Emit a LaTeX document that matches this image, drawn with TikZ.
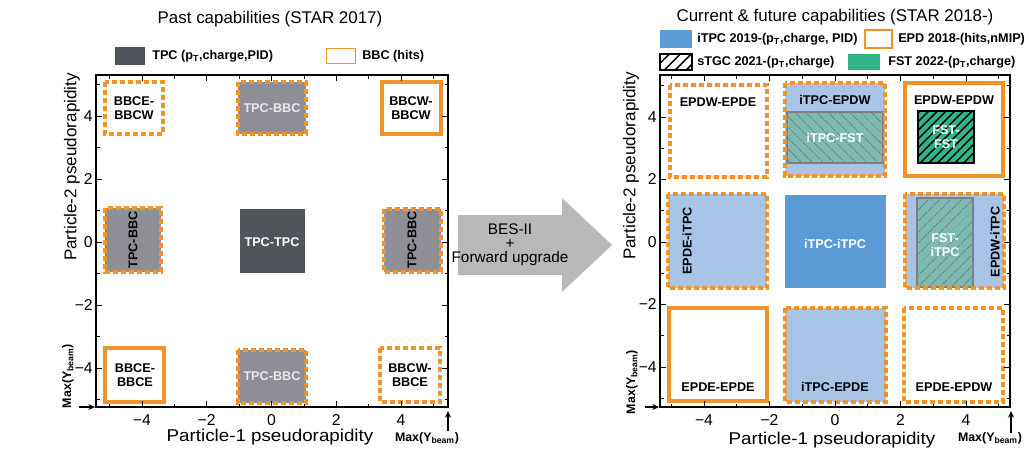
\documentclass[tikz,border=0pt]{standalone}
\usepackage{fontspec}
\setmainfont{Liberation Sans}
\usepackage{graphicx}
\usetikzlibrary{patterns.meta,arrows.meta}
\definecolor{orng}{RGB}{240,148,40}
\definecolor{tpcdark}{RGB}{80,85,92}
\definecolor{tpcgray}{RGB}{142,143,150}
\definecolor{itpc}{RGB}{91,155,213}
\definecolor{ltblue}{RGB}{168,197,232}
\definecolor{tealf}{RGB}{125,187,178}
\definecolor{fstg}{RGB}{50,180,138}
\definecolor{arrowgray}{RGB}{183,185,185}
\definecolor{hatchgray}{RGB}{105,130,128}
\definecolor{lightlbl}{RGB}{232,232,236}
\begin{document}
\begin{tikzpicture}[x=0.75pt,y=-0.75pt,
  lbl/.style={font=\bfseries\fontsize{9.5}{10.5}\selectfont, align=center, inner sep=0pt},
  wlbl/.style={lbl, text=white},
  glbl/.style={lbl, text=lightlbl},
  dbox/.style={draw=orng, line width=2.3pt, dash pattern=on 3.8pt off 2.2pt},
  sbox/.style={draw=orng, line width=2.6pt},
  tk/.style={line width=0.6pt},
  axisln/.style={line width=0.9pt},
  ticklbl/.style={font=\fontsize{11.8}{12}\selectfont, inner sep=0pt},
  axtitle/.style={font=\fontsize{12.8}{14}\selectfont, inner sep=0pt},
  ptitle/.style={font=\fontsize{12.7}{14}\selectfont, inner sep=0pt, anchor=base},
  legtxt/.style={font=\bfseries\fontsize{9.5}{10.5}\selectfont, inner sep=0pt, anchor=west},
  maxlbl/.style={font=\bfseries\fontsize{9.3}{10}\selectfont, inner sep=0pt},
  arr/.style={-{Stealth[length=5pt,width=4.5pt]}, line width=0.8pt},
  hatchT/.style={pattern={Lines[angle=-45,distance=6.5pt,line width=0.9pt]}, pattern color=hatchgray},
  hatchTn/.style={pattern={Lines[angle=45,distance=6.5pt,line width=0.9pt]}, pattern color=hatchgray},
  hatchF/.style={pattern={Lines[angle=45,distance=4.6pt,line width=1.1pt]}, pattern color=black},
]
\useasboundingbox (0,0) rectangle (1029,450);
\fill[white] (0,0) rectangle (1029,450);

%================ LEFT PANEL =================
\node[ptitle] (ltitle) at (270,23) {Past capabilities (STAR 2017)};
% legend
\fill[tpcdark] (115,47) rectangle (145,65);
\node[legtxt] (lleg1) at (152,56) {TPC (p\textsubscript{T},charge,PID)};
\draw[orng, line width=0.7pt] (326,48) rectangle (355,63);
\node[legtxt] (lleg2) at (362,56) {BBC (hits)};

% boxes
\path[fill=white, dbox] (105,82) rectangle (163,134);
\node[lbl] (l1) at (134,108) {BBCE-\\BBCW};
\path[fill=tpcgray, dbox] (238,82) rectangle (306,134);
\node[glbl] (l2) at (272,108) {TPC-BBC};
\path[fill=white, sbox] (382,82) rectangle (441,134);
\node[lbl] (l3) at (411,108) {BBCW-\\BBCW};

\path[fill=tpcgray, dbox] (105,208) rectangle (161,272);
\node[lbl, rotate=90] (l4) at (133,240) {TPC-BBC};
\fill[tpcdark] (240,209) rectangle (305,273);
\node[wlbl] (l5) at (272,242) {TPC-TPC};
\path[fill=tpcgray, dbox] (384,209) rectangle (441,272);
\node[lbl, rotate=90] (l6) at (412,240) {TPC-BBC};

\path[fill=white, sbox] (105,348) rectangle (164,402);
\node[lbl] (l7) at (135,375) {BBCE-\\BBCE};
\path[fill=tpcgray, dbox] (238,350) rectangle (306,403);
\node[glbl] (l8) at (272,376) {TPC-BBC};
\path[fill=white, dbox] (380,348) rectangle (440,402);
\node[lbl] (l9) at (410,375) {BBCW-\\BBCE};

% frame and ticks
\draw[axisln] (96,75) rectangle (448,407);
\foreach \i in {-4,-2,...,4} {
  \draw[tk] ({271.5+32.4*\i},407) -- ++(0,-6);
  \draw[tk] ({271.5+32.4*\i},75) -- ++(0,6);
  \draw[tk] (96,{242-31.5*\i}) -- ++(6,0);
  \draw[tk] (448,{242-31.5*\i}) -- ++(-6,0);
}
\foreach \i in {-5,-3,...,5} {
  \draw[tk] ({271.5+32.4*\i},407) -- ++(0,-3.5);
  \draw[tk] ({271.5+32.4*\i},75) -- ++(0,3.5);
  \draw[tk] (96,{242-31.5*\i}) -- ++(3.5,0);
  \draw[tk] (448,{242-31.5*\i}) -- ++(-3.5,0);
}
\foreach \v/\t/\n in {-4/−4/a,-2/−2/b,0/0/c,2/2/d,4/4/e} {
  \node[ticklbl] (lx\n) at ({271.5+32.4*\v},420) {\t};
  \node[ticklbl, anchor=east] (ly\n) at (93,{242-31.5*\v}) {\t};
}
\node[axtitle] (lxtitle) at (270,437) {\scalebox{1.1}[1]{Particle-1 pseudorapidity}};
\node[axtitle, rotate=90] (lytitle) at (72,167) {Particle-2 pseudorapidity};
\node[maxlbl, rotate=90] (lmaxy) at (68,376) {Max(Y\textsubscript{beam})};
\node[maxlbl] (lmaxx) at (427,438) {Max(Y\textsubscript{beam})};
\coordinate (lya0) at (79,407); \coordinate (lya1) at (95,407);
\draw[arr] (lya0) -- (lya1);
\coordinate (lxa0) at (448,431); \coordinate (lxa1) at (448,411);
\draw[arr] (lxa0) -- (lxa1);

%================ MIDDLE ARROW =================
\fill[arrowgray] (458,215) -- (562,215) -- (562,198) -- (612,245) -- (562,292) -- (562,275) -- (458,275) -- cycle;
\node[font=\fontsize{11.5}{10.5}\selectfont, align=center, inner sep=0pt] (midtxt) at (510,245) {BES-II\\+\\Forward upgrade};

%================ RIGHT PANEL =================
\node[ptitle] (rtitle) at (835,21) {Current \& future capabilities (STAR 2018-)};
% legend
\fill[itpc] (660,30) rectangle (692,48);
\node[legtxt] (rleg1) at (697,39) {iTPC 2019-(p\textsubscript{T},charge, PID)};
\draw[orng, line width=1.4pt] (865,30) rectangle (892,48);
\node[legtxt] (rleg2) at (898,39) {EPD 2018-(hits,nMIP)};
\path[pattern={Lines[angle=45,distance=5.8pt,line width=1.1pt]}, pattern color=black] (660,54) rectangle (692,70);
\draw[line width=0.9pt] (660,54) rectangle (692,70);
\node[legtxt] (rleg3) at (697,62) {sTGC 2021-(p\textsubscript{T},charge)};
\fill[fstg] (848,54) rectangle (880,70);
\node[legtxt] (rleg4) at (888,62) {FST 2022-(p\textsubscript{T},charge)};

% row 1
\path[fill=white, dbox] (670,85) rectangle (767,177);
\node[lbl] (r1) at (718,102) {EPDW-EPDE};
\fill[ltblue] (785,83) rectangle (885,176);
\fill[tealf] (787,112) rectangle (883,163);
\path[hatchT] (787,112) rectangle (883,163);
\draw[gray, line width=1.1pt] (787,112) rectangle (883,163);
\draw[dbox] (785,83) rectangle (885,176);
\node[lbl] (r2) at (835,100) {iTPC-EPDW};
\node[wlbl] (r2b) at (835,138) {iTPC-FST};
\path[fill=white, sbox] (905,83) rectangle (1003,176);
\node[lbl] (r3) at (954,100) {EPDW-EPDW};
\fill[fstg] (918,111) rectangle (974,163);
\path[hatchF] (918,111) rectangle (974,163);
\draw[black, line width=1.4pt] (918,111) rectangle (974,163);
\node[wlbl] (r3b) at (946,137) {FST-\\FST};

% row 2
\path[fill=ltblue, dbox] (668,194) rectangle (767,288);
\node[lbl, rotate=90] (r4) at (687,241) {EPDE-iTPC};
\fill[itpc] (785,195) rectangle (886,288);
\node[wlbl] (r5) at (835,244) {iTPC-iTPC};
\fill[ltblue] (905,194) rectangle (1004,288);
\fill[tealf] (917,198) rectangle (973,287);
\path[hatchTn] (917,198) rectangle (973,287);
\draw[gray, line width=1.1pt] (917,198) rectangle (973,287);
\draw[dbox] (905,194) rectangle (1004,288);
\node[wlbl] (r6) at (945,245) {FST-\\iTPC};
\node[lbl, rotate=90] (r6b) at (995,242) {EPDW-iTPC};

% row 3
\path[fill=white, sbox] (669,308) rectangle (767,401);
\node[lbl] (r7) at (718,387) {EPDE-EPDE};
\path[fill=ltblue, dbox] (785,308) rectangle (886,402);
\node[lbl] (r8) at (835,387) {iTPC-EPDE};
\path[fill=white, dbox] (904,308) rectangle (1003,402);
\node[lbl] (r9) at (954,387) {EPDE-EPDW};

% frame and ticks
\draw[axisln] (660,75) rectangle (1010,407);
\foreach \i in {-4,-2,...,4} {
  \draw[tk] ({835+32.75*\i},407) -- ++(0,-6);
  \draw[tk] ({835+32.75*\i},75) -- ++(0,6);
  \draw[tk] (660,{242-31.25*\i}) -- ++(6,0);
  \draw[tk] (1010,{242-31.25*\i}) -- ++(-6,0);
}
\foreach \i in {-5,-3,...,5} {
  \draw[tk] ({835+32.75*\i},407) -- ++(0,-3.5);
  \draw[tk] ({835+32.75*\i},75) -- ++(0,3.5);
  \draw[tk] (660,{242-31.25*\i}) -- ++(3.5,0);
  \draw[tk] (1010,{242-31.25*\i}) -- ++(-3.5,0);
}
\foreach \v/\t/\n in {-4/−4/a,-2/−2/b,0/0/c,2/2/d,4/4/e} {
  \node[ticklbl] (rx\n) at ({835+32.75*\v},420) {\t};
  \node[ticklbl, anchor=east] (ry\n) at (657,{242-31.25*\v}) {\t};
}
\node[axtitle] (rxtitle) at (832,440) {\scalebox{1.1}[1]{Particle-1 pseudorapidity}};
\node[axtitle, rotate=90] (rytitle) at (631,166) {Particle-2 pseudorapidity};
\node[maxlbl, rotate=90] (rmaxy) at (632,382) {Max(Y\textsubscript{beam})};
\node[maxlbl] (rmaxx) at (990,438) {Max(Y\textsubscript{beam})};
\coordinate (rya0) at (645,407); \coordinate (rya1) at (659,407);
\draw[arr] (rya0) -- (rya1);
\coordinate (rxa0) at (1011,433); \coordinate (rxa1) at (1011,411);
\draw[arr] (rxa0) -- (rxa1);
\end{tikzpicture}
\end{document}
